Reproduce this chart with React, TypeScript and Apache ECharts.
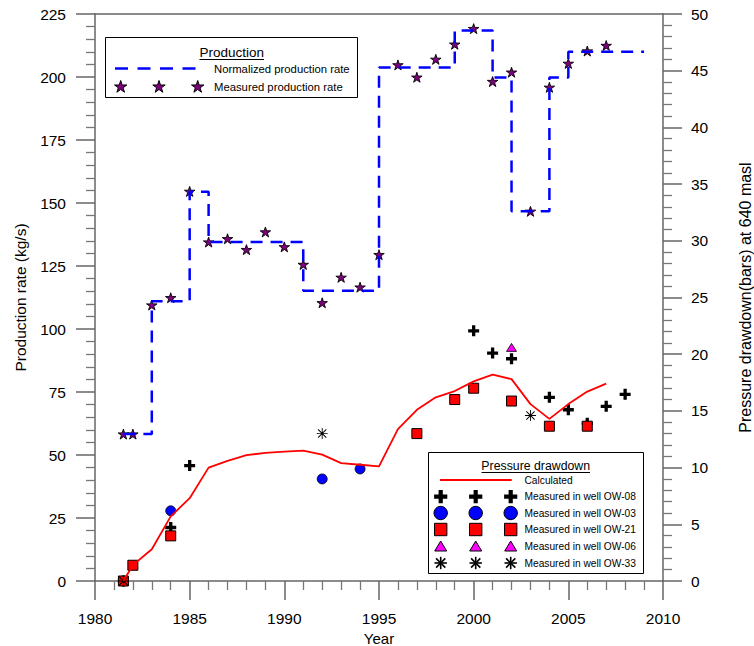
import React, { useEffect, useRef } from "react";
import * as echarts from "echarts";

// ---------------- data ----------------
const normStepYears = [1981.5, 1983, 1985, 1986, 1991, 1995, 1999, 2001, 2002, 2004, 2005, 2009];
const normStepRates = [58.3, 111, 154.5, 134.5, 115.2, 203.8, 218.5, 199.8, 146.7, 199.8, 210, 210];

const measProdYears = [1981.5, 1982, 1983, 1984, 1985, 1986, 1987, 1988, 1989, 1990, 1991, 1992, 1993, 1994, 1995, 1996, 1997, 1998, 1999, 2000, 2001, 2002, 2003, 2004, 2005, 2006, 2007];
const measProdRates = [58.3, 58.3, 109.5, 112.4, 154.6, 134.5, 135.8, 131.5, 138.5, 132.6, 125.6, 110.4, 120.5, 116.6, 129.5, 204.8, 199.9, 207, 213, 219.2, 198.2, 201.9, 146.7, 195.9, 205.4, 210.3, 212.5];

const calcYears = [1981.5, 1982, 1983, 1984, 1985, 1986, 1987, 1988, 1989, 1990, 1991, 1992, 1993, 1994, 1995, 1996, 1997, 1998, 1999, 2000, 2001, 2002, 2003, 2004, 2005, 2006, 2007];
const calcDrawdown = [0, 1.4, 2.8, 5.7, 7.3, 10.0, 10.6, 11.1, 11.3, 11.4, 11.5, 11.15, 10.4, 10.25, 10.1, 13.4, 15.1, 16.2, 16.75, 17.6, 18.2, 17.8, 15.6, 14.3, 15.6, 16.7, 17.4];

const ow08Years = [1981.5, 1984, 1985, 2000, 2001, 2002, 2004, 2005, 2006, 2007, 2008];
const ow08Values = [0, 4.72, 10.18, 22.06, 20.1, 19.6, 16.2, 15.1, 13.9, 15.4, 16.46];

const ow03Years = [1984, 1992, 1994];
const ow03Values = [6.19, 9.0, 9.88];

const ow21Years = [1981.5, 1982, 1984, 1997, 1999, 2000, 2002, 2004, 2006];
const ow21Values = [0, 1.39, 3.98, 13.0, 16.0, 17.0, 15.87, 13.65, 13.65];

const ow06Years = [2002];
const ow06Values = [20.6];

const ow33Years = [1981.5, 1992, 2003];
const ow33Values = [0, 13.0, 14.6];

const productionLegendTitle = "Production";
const productionLegendItems = ["Normalized production rate", "Measured production rate"];
const pressureLegendTitle = "Pressure drawdown";
const pressureLegendItems = [
  "Calculated",
  "Measured in well OW-08",
  "Measured in well OW-03",
  "Measured in well OW-21",
  "Measured in well OW-06",
  "Measured in well OW-33",
];

const xTitle = "Year";
const yLeftTitle = "Production rate (kg/s)";
const yRightTitle = "Pressure drawdown(bars) at 640 masl";

// ---------------- styles ----------------
const FONT = 'Arial, "Liberation Sans", Helvetica, sans-serif';
const AXIS_COLOR = "#666";
const STAR_PATH =
  "path://M10,0 L12.25,6.91 L19.51,6.91 L13.63,11.18 L15.88,18.09 L10,13.82 L4.12,18.09 L6.37,11.18 L0.49,6.91 L7.75,6.91 Z";
const PLUS_PATH =
  "path://M7,0 L13,0 L13,7 L20,7 L20,13 L13,13 L13,20 L7,20 L7,13 L0,13 L0,7 L7,7 Z";
const AST_PATH =
  "path://M9.2,0 L10.8,0 L10.8,20 L9.2,20 Z M0,9.2 L20,9.2 L20,10.8 L0,10.8 Z M1.9,3.1 L3.1,1.9 L18.1,16.9 L16.9,18.1 Z M16.9,1.9 L18.1,3.1 L3.1,18.1 L1.9,16.9 Z";

const zip = (xs: number[], ys: number[]) => xs.map((x, i) => [x, ys[i]]);

function starPoints(cx: number, cy: number, r: number) {
  const pts: number[][] = [];
  for (let i = 0; i < 10; i++) {
    const rr = i % 2 === 0 ? r : r * 0.382;
    const a = -Math.PI / 2 + (i * Math.PI) / 5;
    pts.push([cx + rr * Math.cos(a), cy + 0.5 + rr * Math.sin(a)]);
  }
  return pts;
}

function legendSymbol(kind: string, x: number, y: number): any[] {
  if (kind === "star") {
    return [{ type: "polygon", shape: { points: starPoints(x, y, 6.5) }, style: { fill: "#800080", stroke: "#000", lineWidth: 1 } }];
  }
  if (kind === "plus") {
    const h = 6.6, a = 2.1;
    return [{
      type: "polygon",
      shape: { points: [[x - a, y - h], [x + a, y - h], [x + a, y - a], [x + h, y - a], [x + h, y + a], [x + a, y + a], [x + a, y + h], [x - a, y + h], [x - a, y + a], [x - h, y + a], [x - h, y - a], [x - a, y - a]] },
      style: { fill: "#000" },
    }];
  }
  if (kind === "circle") {
    return [{ type: "circle", shape: { cx: x, cy: y, r: 6.7 }, style: { fill: "#0000FF", stroke: "#000", lineWidth: 1 } }];
  }
  if (kind === "square") {
    return [{ type: "rect", shape: { x: x - 6.2, y: y - 6.2, width: 12.4, height: 12.4 }, style: { fill: "#FF0000", stroke: "#000", lineWidth: 1 } }];
  }
  if (kind === "triangle") {
    return [{ type: "polygon", shape: { points: [[x, y - 5.5], [x + 6, y + 4.5], [x - 6, y + 4.5]] }, style: { fill: "#FF00FF", stroke: "#000", lineWidth: 1 } }];
  }
  // asterisk
  const L = 6.2, d = 4.6;
  return [
    { type: "line", shape: { x1: x, y1: y - L, x2: x, y2: y + L }, style: { stroke: "#000", lineWidth: 1.6 } },
    { type: "line", shape: { x1: x - L, y1: y, x2: x + L, y2: y }, style: { stroke: "#000", lineWidth: 1.6 } },
    { type: "line", shape: { x1: x - d, y1: y - d, x2: x + d, y2: y + d }, style: { stroke: "#000", lineWidth: 1.6 } },
    { type: "line", shape: { x1: x + d, y1: y - d, x2: x - d, y2: y + d }, style: { stroke: "#000", lineWidth: 1.6 } },
  ];
}

function buildGraphic() {
  const g: any[] = [];
  // Production legend
  g.push({ type: "rect", shape: { x: 105.5, y: 37.5, width: 252, height: 60 }, style: { fill: "#fff", stroke: "#000", lineWidth: 1 } });
  g.push({ type: "text", x: 231.7, y: 52, style: { text: productionLegendTitle, font: `13.5px ${FONT}`, fill: "#000", align: "center", verticalAlign: "middle" } });
  g.push({ type: "line", shape: { x1: 199.5, y1: 59.5, x2: 264, y2: 59.5 }, style: { stroke: "#000", lineWidth: 1 } });
  g.push({ type: "line", shape: { x1: 115, y1: 68.5, x2: 198, y2: 68.5 }, style: { stroke: "#0000FF", lineWidth: 2.5, lineDash: [13, 9.5] } });
  g.push({ type: "text", x: 214, y: 68.5, style: { text: productionLegendItems[0], font: `11.3px ${FONT}`, fill: "#000", align: "left", verticalAlign: "middle" } });
  [120.7, 159, 197.7].forEach((sx) => g.push(...legendSymbol("star", sx, 86.5)));
  g.push({ type: "text", x: 214, y: 86.7, style: { text: productionLegendItems[1], font: `11.3px ${FONT}`, fill: "#000", align: "left", verticalAlign: "middle" } });

  // Pressure legend
  g.push({ type: "rect", shape: { x: 428.5, y: 452.5, width: 215, height: 121 }, style: { fill: "#fff", stroke: "#000", lineWidth: 1 } });
  g.push({ type: "text", x: 535.7, y: 465.5, style: { text: pressureLegendTitle, font: `12.3px ${FONT}`, fill: "#000", align: "center", verticalAlign: "middle" } });
  g.push({ type: "line", shape: { x1: 481.5, y1: 472.5, x2: 590, y2: 472.5 }, style: { stroke: "#000", lineWidth: 1 } });
  const rowY = [480, 496.7, 513, 529.5, 546.5, 563];
  const kinds = ["line", "plus", "circle", "square", "triangle", "asterisk"];
  rowY.forEach((ry, i) => {
    if (kinds[i] === "line") {
      g.push({ type: "line", shape: { x1: 440, y1: ry, x2: 511.7, y2: ry }, style: { stroke: "#FF0000", lineWidth: 2 } });
    } else {
      [440.7, 475.7, 510.7].forEach((sx) => g.push(...legendSymbol(kinds[i], sx, ry)));
    }
    g.push({ type: "text", x: 524.5, y: ry, style: { text: pressureLegendItems[i], font: `10.2px ${FONT}`, fill: "#000", align: "left", verticalAlign: "middle" } });
  });
  return g.map((e) => ({ ...e, z: 100 }));
}

const axisLineStyle = { color: AXIS_COLOR, width: 1.5 };
const tickStyle = { color: AXIS_COLOR, width: 1.5 };
const minorStyle = { color: "#777", width: 1.3 };
const labelStyle = { color: "#000", fontSize: 15.5, fontFamily: FONT, formatter: (v: number) => String(v) };
const nameStyle = { color: "#000", fontSize: 15.5, fontFamily: FONT };

export default function App() {
  const ref = useRef<HTMLDivElement>(null);
  useEffect(() => {
    if (!ref.current) return;
    const chart = echarts.init(ref.current, undefined, { renderer: "svg" });
    const option: any = {
      animation: false,
      backgroundColor: "#fff",
      grid: { left: 95, right: 91, top: 14, bottom: 65, containLabel: false, outerBoundsMode: "none" },
      xAxis: [
        {
          type: "value", min: 1980, max: 2010, interval: 5, position: "bottom",
          axisLine: { show: true, onZero: false, lineStyle: axisLineStyle },
          axisTick: { show: true, length: 19, lineStyle: tickStyle },
          minorTick: { show: true, splitNumber: 5, length: 9, lineStyle: minorStyle },
          axisLabel: { ...labelStyle, margin: 29 },
          splitLine: { show: false },
          name: xTitle, nameLocation: "middle", nameGap: 48,
          nameTextStyle: { ...nameStyle, fontSize: 15 },
        },
        {
          type: "value", min: 1980, max: 2010, position: "top",
          axisLine: { show: true, onZero: false, lineStyle: axisLineStyle },
          axisTick: { show: false }, axisLabel: { show: false }, splitLine: { show: false },
        },
      ],
      yAxis: [
        {
          type: "value", min: 0, max: 225, interval: 25, position: "left",
          axisLine: { show: true, onZero: false, lineStyle: axisLineStyle },
          axisTick: { show: true, length: 19, lineStyle: tickStyle },
          minorTick: { show: true, splitNumber: 5, length: 9, lineStyle: minorStyle },
          axisLabel: { ...labelStyle, margin: 29 },
          splitLine: { show: false },
          name: yLeftTitle, nameLocation: "middle", nameGap: 67, nameRotate: 90,
          nameTextStyle: { ...nameStyle, fontSize: 15.5 },
        },
        {
          type: "value", min: 0, max: 50, interval: 5, position: "right",
          axisLine: { show: true, onZero: false, lineStyle: axisLineStyle },
          axisTick: { show: true, length: 19, lineStyle: tickStyle },
          minorTick: { show: true, splitNumber: 5, length: 9, lineStyle: minorStyle },
          axisLabel: { ...labelStyle, margin: 28 },
          splitLine: { show: false },
          name: yRightTitle, nameLocation: "middle", nameGap: 74, nameRotate: 90,
          nameTextStyle: { ...nameStyle, fontSize: 16 },
        },
      ],
      series: [
        {
          name: "Normalized production rate", type: "line", step: "end",
          xAxisIndex: 0, yAxisIndex: 0, data: zip(normStepYears, normStepRates),
          showSymbol: false, symbol: "none",
          lineStyle: { color: "#0000FF", width: 2.5, type: [12, 8] },
        },
        {
          name: "Measured production rate", type: "scatter", xAxisIndex: 0, yAxisIndex: 0,
          data: zip(measProdYears, measProdRates), symbol: STAR_PATH, symbolSize: [10.5, 10],
          itemStyle: { color: "#800080", borderColor: "#000", borderWidth: 0.9, opacity: 1 }, clip: false,
        },
        {
          name: "Calculated", type: "line", xAxisIndex: 0, yAxisIndex: 1,
          data: zip(calcYears, calcDrawdown), showSymbol: false, symbol: "none",
          lineStyle: { color: "#FF0000", width: 1.8 },
        },
        {
          name: "Measured in well OW-08", type: "scatter", xAxisIndex: 0, yAxisIndex: 1,
          data: zip(ow08Years, ow08Values), symbol: PLUS_PATH, symbolSize: 11,
          itemStyle: { color: "#000", opacity: 1 }, clip: false,
        },
        {
          name: "Measured in well OW-03", type: "scatter", xAxisIndex: 0, yAxisIndex: 1,
          data: zip(ow03Years, ow03Values), symbol: "circle", symbolSize: 10,
          itemStyle: { color: "#0000FF", borderColor: "#000", borderWidth: 0.8, opacity: 1 }, clip: false,
        },
        {
          name: "Measured in well OW-21", type: "scatter", xAxisIndex: 0, yAxisIndex: 1,
          data: zip(ow21Years, ow21Values), symbol: "rect", symbolSize: 10,
          itemStyle: { color: "#FF0000", borderColor: "#000", borderWidth: 1, opacity: 1 }, clip: false,
        },
        {
          name: "Measured in well OW-06", type: "scatter", xAxisIndex: 0, yAxisIndex: 1,
          data: zip(ow06Years, ow06Values), symbol: "triangle", symbolSize: [10, 8],
          itemStyle: { color: "#FF00FF", borderColor: "#000", borderWidth: 0.8, opacity: 1 }, clip: false,
        },
        {
          name: "Measured in well OW-33", type: "scatter", xAxisIndex: 0, yAxisIndex: 1,
          data: zip(ow33Years, ow33Values), symbol: AST_PATH, symbolSize: 11,
          itemStyle: { color: "#000", opacity: 1 }, clip: false,
        },
      ],
      graphic: buildGraphic(),
    };
    chart.setOption(option);
    return () => chart.dispose();
  }, []);
  return (
    <div
      ref={ref}
      style={{ position: "fixed", left: 0, top: 0, width: 754, height: 646, background: "#fff" }}
    />
  );
}
